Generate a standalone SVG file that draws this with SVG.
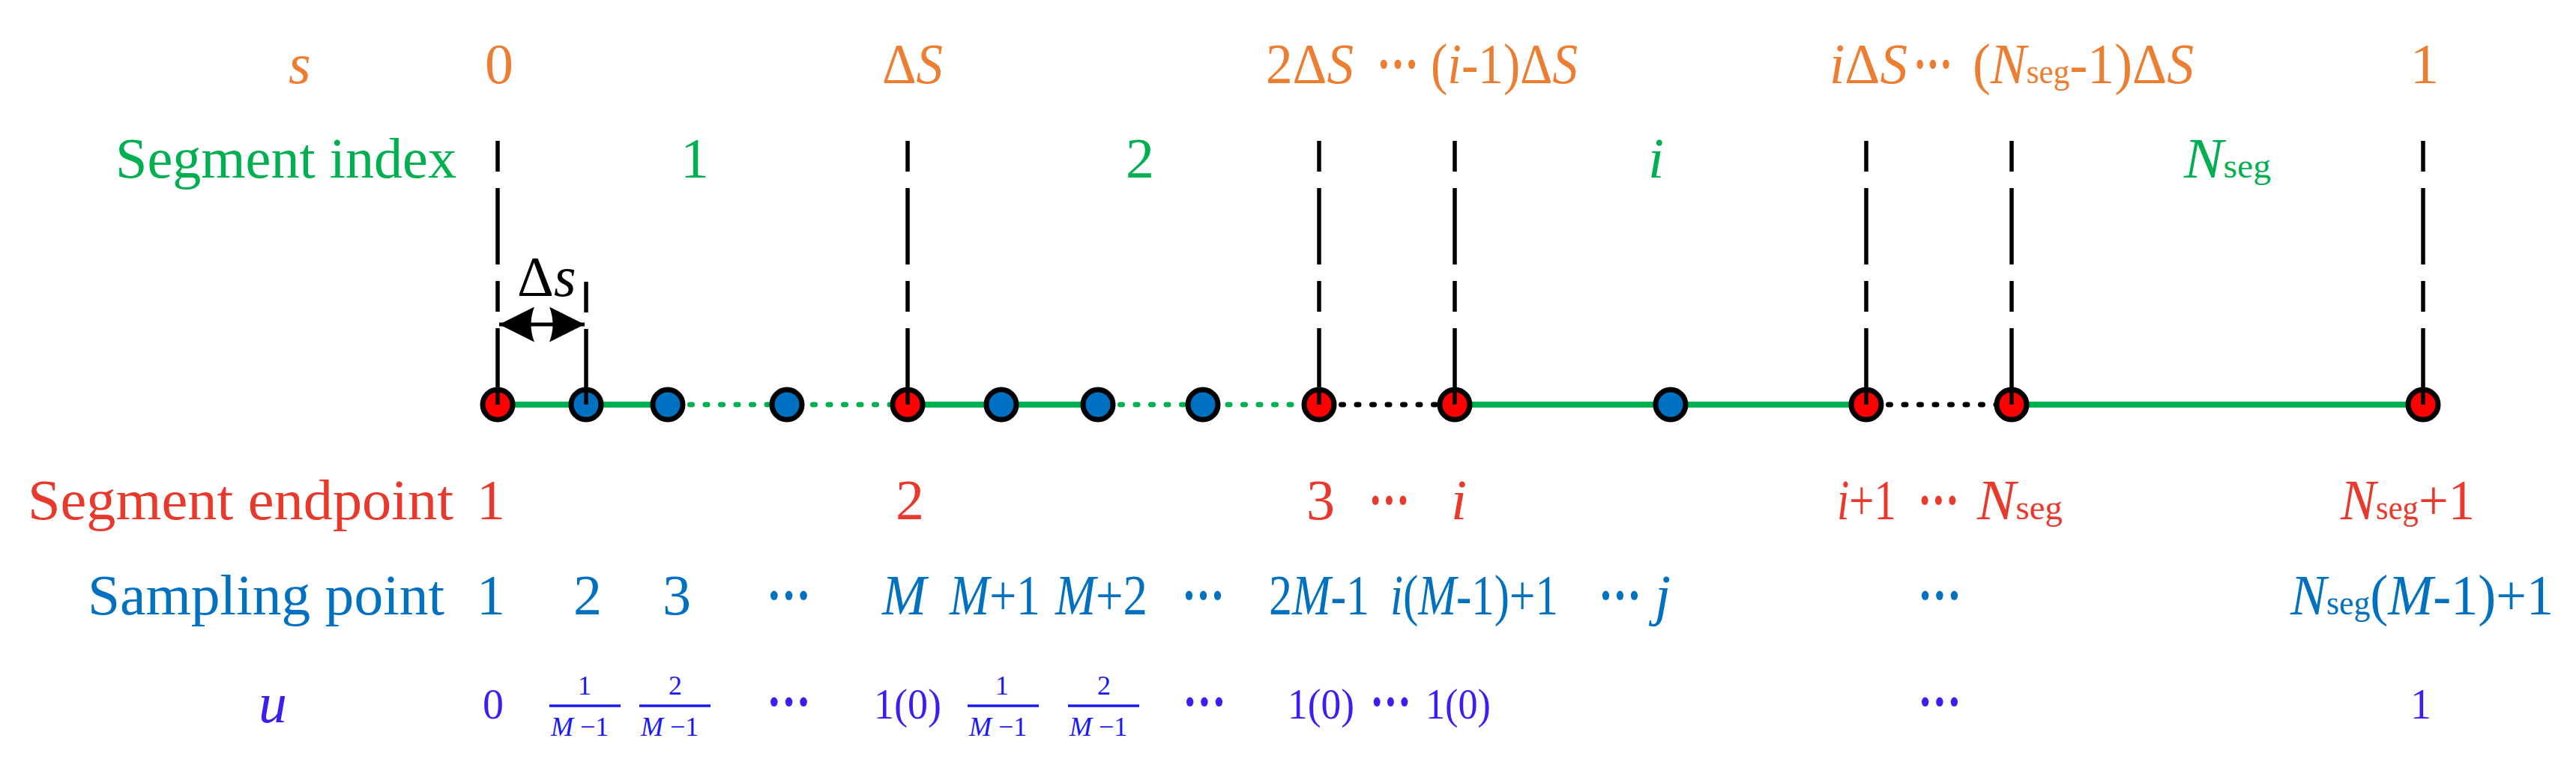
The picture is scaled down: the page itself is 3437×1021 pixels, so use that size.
<svg xmlns="http://www.w3.org/2000/svg" width="3437" height="1021" viewBox="0 0 3437 1021" font-family="'Liberation Serif', serif">
<defs>
<style>
text{font-family:'Liberation Serif',serif;font-size:76px}
.it{font-style:italic}
.sub{font-size:46px;font-style:normal}
.or{fill:#ED7D31}.gr{fill:#00B050}.rd{fill:#E8392C}.bl{fill:#0070C0}.pu{fill:#3B1EF2}.fr{fill:#1A1AF0;font-size:36px}
.dots{font-weight:bold}
.n56{font-size:56px}
.solid{stroke:#00B050;stroke-width:8;fill:none}
.gdot{stroke:#00B050;stroke-width:7;stroke-linecap:round;stroke-dasharray:3 17.5;fill:none}
.kdot{stroke:#000;stroke-width:7;stroke-linecap:round;stroke-dasharray:3 17.5;fill:none}
.vdash{stroke:#000;stroke-width:5.5;stroke-dasharray:41 22 102 22;fill:none}
.ep{fill:#FF0000;stroke:#000;stroke-width:7}
.sp{fill:#0070C0;stroke:#000;stroke-width:7}
.bar{stroke:#1A1AF0;stroke-width:3.5}
</style>
<marker id="ah" markerUnits="userSpaceOnUse" viewBox="0 0 47 47" refX="47" refY="23.5" markerWidth="47" markerHeight="47" orient="auto-start-reverse">
<path d="M0,0 L47,23.5 L0,47 Q9,23.5 0,0 Z" fill="#000"/>
</marker>
</defs>
<rect width="3437" height="1021" fill="#fff"/>

<g id="connectors">
<line class="solid" x1="664" y1="540" x2="891" y2="540"/>
<line class="gdot" x1="900" y1="540" x2="1205" y2="540"/>
<line class="solid" x1="1211" y1="540" x2="1465" y2="540"/>
<line class="gdot" x1="1474" y1="540" x2="1754" y2="540"/>
<line class="kdot" x1="1769" y1="540" x2="1935" y2="540"/>
<line class="solid" x1="1941" y1="540" x2="2490" y2="540"/>
<line class="kdot" x1="2499" y1="540" x2="2678" y2="540"/>
<line class="solid" x1="2684" y1="540" x2="3233" y2="540"/>
</g>

<g id="points">
<g id="p-e1"><circle class="ep" cx="664" cy="540" r="20"/></g>
<g id="p-s2"><circle class="sp" cx="782" cy="540" r="20"/></g>
<g id="p-s3"><circle class="sp" cx="891" cy="540" r="20"/></g>
<g id="p-s4"><circle class="sp" cx="1050" cy="540" r="20"/></g>
<g id="p-e2"><circle class="ep" cx="1211" cy="540" r="20"/></g>
<g id="p-s5"><circle class="sp" cx="1336" cy="540" r="20"/></g>
<g id="p-s6"><circle class="sp" cx="1465" cy="540" r="20"/></g>
<g id="p-s7"><circle class="sp" cx="1605" cy="540" r="20"/></g>
<g id="p-e3"><circle class="ep" cx="1760" cy="540" r="20"/></g>
<g id="p-ei"><circle class="ep" cx="1941" cy="540" r="20"/></g>
<g id="p-sj"><circle class="sp" cx="2229" cy="540" r="20"/></g>
<g id="p-ei1"><circle class="ep" cx="2490" cy="540" r="20"/></g>
<g id="p-en"><circle class="ep" cx="2684" cy="540" r="20"/></g>
<g id="p-en1"><circle class="ep" cx="3233" cy="540" r="20"/></g>
</g>

<g id="guides">
<line class="vdash" x1="664" y1="188" x2="664" y2="540"/>
<line class="vdash" x1="1211" y1="188" x2="1211" y2="540"/>
<line class="vdash" x1="1760" y1="188" x2="1760" y2="540"/>
<line class="vdash" x1="1941" y1="188" x2="1941" y2="540"/>
<line class="vdash" x1="2490" y1="188" x2="2490" y2="540"/>
<line class="vdash" x1="2684" y1="188" x2="2684" y2="540"/>
<line class="vdash" x1="3233" y1="188" x2="3233" y2="540"/>
<line x1="782" y1="376" x2="782" y2="540" stroke="#000" stroke-width="5.5" stroke-dasharray="41 22 110"/>
</g>

<g id="delta-s">
<line x1="666" y1="433" x2="780" y2="433" stroke="#000" stroke-width="5" marker-start="url(#ah)" marker-end="url(#ah)"/>
<text x="690" y="395" font-size="72" fill="#000">Δ<tspan class="it">s</tspan></text>
</g>

<g id="row-s" class="or">
<text class="it" x="385" y="111">s</text>
<text x="666" y="111" text-anchor="middle">0</text>
<text x="1177" y="111" textLength="81" lengthAdjust="spacingAndGlyphs">Δ<tspan class="it">S</tspan></text>
<text x="1689" y="111" textLength="117" lengthAdjust="spacingAndGlyphs">2Δ<tspan class="it">S</tspan></text>
<text class="dots" x="1837" y="111" textLength="56" lengthAdjust="spacingAndGlyphs">···</text>
<text x="1909" y="111" textLength="196" lengthAdjust="spacingAndGlyphs">(<tspan class="it">i</tspan>-1)Δ<tspan class="it">S</tspan></text>
<text x="2441" y="111" textLength="104" lengthAdjust="spacingAndGlyphs"><tspan class="it">i</tspan>Δ<tspan class="it">S</tspan></text>
<text class="dots" x="2553" y="111" textLength="52" lengthAdjust="spacingAndGlyphs">···</text>
<text x="2632" y="111" textLength="295" lengthAdjust="spacingAndGlyphs">(<tspan class="it">N</tspan><tspan class="sub">seg</tspan>-1)Δ<tspan class="it">S</tspan></text>
<text x="3235" y="111" text-anchor="middle">1</text>
</g>

<g id="row-index" class="gr">
<text x="154" y="237" textLength="455" lengthAdjust="spacingAndGlyphs">Segment index</text>
<text x="927" y="237" text-anchor="middle">1</text>
<text x="1521" y="237" text-anchor="middle">2</text>
<text class="it" x="2199" y="237">i</text>
<text x="2914" y="237" textLength="116" lengthAdjust="spacingAndGlyphs"><tspan class="it">N</tspan><tspan class="sub">seg</tspan></text>
</g>

<g id="row-endpoint" class="rd">
<text x="37" y="693" textLength="568" lengthAdjust="spacingAndGlyphs">Segment endpoint</text>
<text x="655" y="693" text-anchor="middle">1</text>
<text x="1214" y="693" text-anchor="middle">2</text>
<text x="1762" y="693" text-anchor="middle">3</text>
<text class="dots" x="1826" y="693" textLength="55" lengthAdjust="spacingAndGlyphs">···</text>
<text class="it" x="1936" y="693">i</text>
<text x="2451" y="693" textLength="79" lengthAdjust="spacingAndGlyphs"><tspan class="it">i</tspan>+1</text>
<text class="dots" x="2559" y="693" textLength="55" lengthAdjust="spacingAndGlyphs">···</text>
<text x="2638" y="693" textLength="114" lengthAdjust="spacingAndGlyphs"><tspan class="it">N</tspan><tspan class="sub">seg</tspan></text>
<text x="3123" y="693" textLength="179" lengthAdjust="spacingAndGlyphs"><tspan class="it">N</tspan><tspan class="sub">seg</tspan>+1</text>
</g>

<g id="row-sampling" class="bl">
<text x="117" y="820" textLength="476" lengthAdjust="spacingAndGlyphs">Sampling point</text>
<text x="655" y="820" text-anchor="middle">1</text>
<text x="784" y="820" text-anchor="middle">2</text>
<text x="903" y="820" text-anchor="middle">3</text>
<text class="dots" x="1023" y="820" textLength="59" lengthAdjust="spacingAndGlyphs">···</text>
<text class="it" x="1177" y="820" textLength="59" lengthAdjust="spacingAndGlyphs">M</text>
<text x="1267" y="820" textLength="121" lengthAdjust="spacingAndGlyphs"><tspan class="it">M</tspan>+1</text>
<text x="1408" y="820" textLength="123" lengthAdjust="spacingAndGlyphs"><tspan class="it">M</tspan>+2</text>
<text class="dots" x="1577" y="820" textLength="57" lengthAdjust="spacingAndGlyphs">···</text>
<text x="1693" y="820" textLength="134" lengthAdjust="spacingAndGlyphs">2<tspan class="it">M</tspan>-1</text>
<text x="1855" y="820" textLength="224" lengthAdjust="spacingAndGlyphs"><tspan class="it">i</tspan>(<tspan class="it">M</tspan>-1)+1</text>
<text class="dots" x="2133" y="820" textLength="57" lengthAdjust="spacingAndGlyphs">···</text>
<text class="it" x="2208" y="820">j</text>
<text class="dots" x="2559" y="820" textLength="58" lengthAdjust="spacingAndGlyphs">···</text>
<text x="3056" y="820" textLength="351" lengthAdjust="spacingAndGlyphs"><tspan class="it">N</tspan><tspan class="sub">seg</tspan>(<tspan class="it">M</tspan>-1)+1</text>
</g>

<g id="row-u">
<text class="pu it" x="345" y="964">u</text>
<text class="pu n56" x="658" y="959" text-anchor="middle">0</text>
<g class="frac">
<text class="fr" x="780" y="927" text-anchor="middle">1</text>
<line class="bar" x1="733" y1="942" x2="828" y2="942"/>
<text class="fr" x="735" y="982"><tspan class="it">M</tspan> −1</text>
</g>
<g class="frac">
<text class="fr" x="901" y="927" text-anchor="middle">2</text>
<line class="bar" x1="853" y1="942" x2="948" y2="942"/>
<text class="fr" x="855" y="982"><tspan class="it">M</tspan> −1</text>
</g>
<text class="pu dots" x="1023" y="962" textLength="59" lengthAdjust="spacingAndGlyphs">···</text>
<text class="pu n56" x="1166" y="959" textLength="90" lengthAdjust="spacingAndGlyphs">1(0)</text>
<g class="frac">
<text class="fr" x="1337" y="927" text-anchor="middle">1</text>
<line class="bar" x1="1291" y1="942" x2="1386" y2="942"/>
<text class="fr" x="1293" y="982"><tspan class="it">M</tspan> −1</text>
</g>
<g class="frac">
<text class="fr" x="1473" y="927" text-anchor="middle">2</text>
<line class="bar" x1="1425" y1="942" x2="1520" y2="942"/>
<text class="fr" x="1427" y="982"><tspan class="it">M</tspan> −1</text>
</g>
<text class="pu dots" x="1578" y="962" textLength="58" lengthAdjust="spacingAndGlyphs">···</text>
<text class="pu n56" x="1718" y="959" textLength="89" lengthAdjust="spacingAndGlyphs">1(0)</text>
<text class="pu dots" x="1828" y="962" textLength="55" lengthAdjust="spacingAndGlyphs">···</text>
<text class="pu n56" x="1902" y="959" textLength="87" lengthAdjust="spacingAndGlyphs">1(0)</text>
<text class="pu dots" x="2559" y="962" textLength="58" lengthAdjust="spacingAndGlyphs">···</text>
<text class="pu n56" x="3230" y="959" text-anchor="middle">1</text>
</g>
</svg>
